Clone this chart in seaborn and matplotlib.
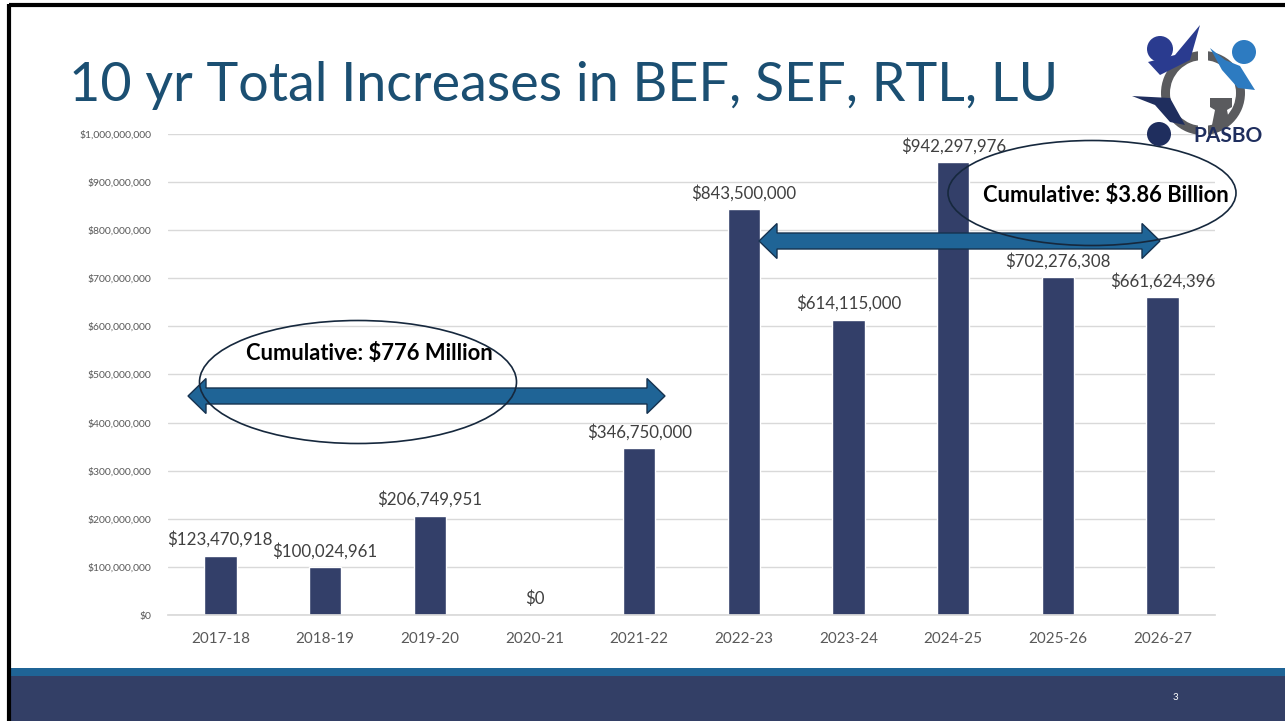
import numpy as np
import pandas as pd
import matplotlib
matplotlib.use("Agg")
import matplotlib.pyplot as plt
from matplotlib.patches import Ellipse, Polygon, Circle, Rectangle, Wedge
import seaborn as sns

# chart data
years = ["2017-18", "2018-19", "2019-20", "2020-21", "2021-22",
         "2022-23", "2023-24", "2024-25", "2025-26", "2026-27"]
increases = [123470918, 100024961, 206749951, 0, 346750000,
             843500000, 614115000, 942297976, 702276308, 661624396]
y_ticks = [0, 100000000, 200000000, 300000000, 400000000, 500000000,
           600000000, 700000000, 800000000, 900000000, 1000000000]

title = "10 yr Total Increases in BEF, SEF, RTL, LU"
note_early = "Cumulative: $776 Million"
note_late = "Cumulative: $3.86 Billion"

df = pd.DataFrame({"Year": years, "Increase": increases})

sns.set_theme(style="white")
plt.rcParams["font.family"] = ["Lato", "DejaVu Sans"]

W, H = 1285, 721
fig = plt.figure(figsize=(W / 100, H / 100), dpi=100)
fig.patch.set_facecolor("white")

# main chart
ax = fig.add_axes([168 / W, 1 - 615 / H, (1215 - 168) / W, (615 - 134) / H])
sns.barplot(data=df, x="Year", y="Increase", color="#333F69", saturation=1,
            width=0.31, ax=ax)
ax.set_xlim(-0.5, 9.5)
ax.set_ylim(0, 1e9)
ax.set_yticks(y_ticks)
ax.set_yticklabels(["${:,}".format(v) for v in y_ticks], fontsize=7.5, color="#595959")
ax.tick_params(axis="x", labelsize=11, colors="#595959", length=0, pad=12)
ax.tick_params(axis="y", length=0, pad=12)
ax.grid(axis="y", color="#d9d9d9", lw=1)
ax.set_axisbelow(True)
ax.set_xlabel("")
ax.set_ylabel("")
for s in ["top", "right", "left"]:
    ax.spines[s].set_visible(False)
ax.spines["bottom"].set_color("#d9d9d9")
ax.patch.set_alpha(0)

for i, v in enumerate(increases):
    ax.annotate("${:,}".format(v), (i, v), xytext=(0, 11.5), textcoords="offset points",
                ha="center", va="center", fontsize=12.2, color="#404040")

# overlay in pixel coordinates for slide decorations
ov = fig.add_axes([0, 0, 1, 1], zorder=5)
ov.set_xlim(0, W)
ov.set_ylim(H, 0)
ov.axis("off")
ov.patch.set_alpha(0)

# frame and footer
ov.plot([9, W], [5, 5], color="black", lw=3, solid_capstyle="butt")
ov.plot([9, 9], [4, H], color="black", lw=3, solid_capstyle="butt")
ov.add_patch(Rectangle((10, 668), W - 10, 8, color="#1F6496", lw=0))
ov.add_patch(Rectangle((10, 676), W - 10, H - 676, color="#333F66", lw=0))
ov.text(1175, 697, "3", color="white", fontsize=7, ha="center", va="center")

ov.text(69, 101, title, fontsize=38.8, color="#1B4F72", fontweight="normal",
        ha="left", va="baseline")


def double_arrow(x0, x1, cy, half=8, head_half=17.5, head_len=18):
    pts = [(x0, cy), (x0 + head_len, cy - head_half), (x0 + head_len, cy - half),
           (x1 - head_len, cy - half), (x1 - head_len, cy - head_half), (x1, cy),
           (x1 - head_len, cy + head_half), (x1 - head_len, cy + half),
           (x0 + head_len, cy + half), (x0 + head_len, cy + head_half)]
    ov.add_patch(Polygon(pts, closed=True, fc="#1F6496", ec="#16324f", lw=1))


double_arrow(188, 665, 396)
double_arrow(759, 1160, 241)
ov.add_patch(Ellipse((358, 382), 317, 123, fill=False, ec="#16283d", lw=1.2))
ov.add_patch(Ellipse((1092, 193), 288, 105, fill=False, ec="#16283d", lw=1.2))
ov.text(369, 353, note_early, fontsize=15.8, fontweight="bold", color="black",
        ha="center", va="center")
ov.text(1106, 196, note_late, fontsize=15.8, fontweight="bold", color="black",
        ha="center", va="center")

# rough PASBO logo
ov.add_patch(Wedge((1203, 93), 42, 0, 360, width=9, color="#5a5b5e", lw=0))
ov.add_patch(Rectangle((1198, 40), 10, 110, color="white", lw=0))
ov.add_patch(Circle((1160, 49), 13, color="#2A3B8F", lw=0))
ov.add_patch(Circle((1244, 52), 12, color="#2D7BC1", lw=0))
ov.add_patch(Circle((1159, 134), 12, color="#1F2E5E", lw=0))
ov.add_patch(Polygon([(1200, 25), (1190, 60), (1160, 75), (1148, 62), (1175, 55)],
                     color="#2A3B8F", lw=0))
ov.add_patch(Polygon([(1210, 48), (1225, 60), (1240, 66), (1255, 90), (1238, 88), (1222, 70)],
                     color="#2D7BC1", lw=0))
ov.add_patch(Polygon([(1132, 96), (1170, 98), (1185, 125), (1170, 122), (1155, 105)],
                     color="#1F2E5E", lw=0))
ov.add_patch(Polygon([(1210, 98), (1232, 98), (1232, 107), (1227, 110), (1230, 125),
                      (1212, 125), (1215, 110), (1210, 107)], color="#5a5b5e", lw=0))
ov.text(1228, 136, "PASBO", fontsize=15, fontweight="bold", color="#1F2E5E",
        ha="center", va="center")

fig.savefig("out.png", dpi=100)
